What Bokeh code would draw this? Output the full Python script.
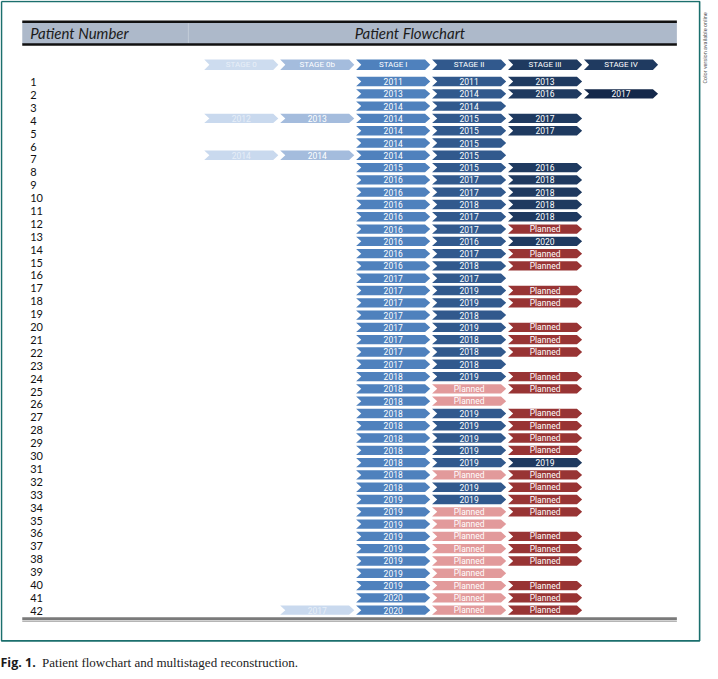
from bokeh.plotting import figure
from bokeh.models import Range1d, ColumnDataSource, Label
from bokeh.core.properties import value
from bokeh.embed import file_html
from bokeh.resources import INLINE

# ---------------- data ----------------
stage_names = ["STAGE 0", "STAGE 0b", "STAGE I", "STAGE II", "STAGE III", "STAGE IV"]
patient_numbers = [str(i) for i in range(1, 43)]

stage_0 = ["", "", "", "2012", "", "", "2014"] + [""] * 37
stage_0b = ["", "", "", "2013", "", "", "2014"] + [""] * 36 + ["2017"]
stage_I = (["2011", "2013", "2014", "2014", "2014", "2014", "2014", "2015"]
           + ["2016"] * 8 + ["2017"] * 8 + ["2018"] * 10 + ["2019"] * 8 + ["2020"] * 2)
stage_II = ["2011", "2014", "2014", "2015", "2015", "2015", "2015", "2015",
            "2017", "2017", "2018", "2017", "2017", "2016", "2017", "2018",
            "2017", "2019", "2019", "2018", "2019", "2018", "2018", "2018",
            "2019", "Planned", "Planned", "2019", "2019", "2019", "2019", "2019",
            "Planned", "2019", "2019", "Planned", "Planned", "Planned", "Planned", "Planned",
            "Planned", "Planned", "Planned", "Planned"]
stage_III = ["2013", "2016", "", "2017", "2017", "", "", "2016",
             "2018", "2018", "2018", "2018", "Planned", "2020", "Planned", "Planned",
             "", "Planned", "Planned", "", "Planned", "Planned", "Planned", "",
             "Planned", "Planned", "", "Planned", "Planned", "Planned", "Planned", "2019",
             "Planned", "Planned", "Planned", "Planned", "", "Planned", "Planned", "Planned",
             "", "Planned", "Planned", "Planned"]
stage_IV = ["", "2017"] + [""] * 42
faded_0b_rows = [44]

columns = [stage_0, stage_0b, stage_I, stage_II, stage_III, stage_IV]

# ---------------- layout ----------------
W_REF, H_REF = 718, 679
FIG_W, FIG_H = 710, 671
COL_X0, COL_DX = 243.5, 76.8
ROW_Y0, ROW_DY = 82.0, 12.44
LAB_Y0, LAB_DY = 82.5, 13.05
HEAD_ROW = 1 + (65 - ROW_Y0) / ROW_DY
ARROW_FONT = "Roboto"

fill_stage = ["#c9d9ee", "#a4bcdd", "#4f81bd", "#31598d", "#1f3a60", "#14284a"]
text_stage = ["#e6eef8", "white", "white", "white", "white", "white"]
head_fill = ["#cddcef", "#a4bcdd", "#4f81bd", "#31598d", "#1f3a60", "#1f3a60"]
head_text = ["#e8eff8", "white", "white", "white", "white", "white"]
fill_planned = {3: "#e29a9b", 4: "#983434"}


def chevron(s, r, hw=0.488, d=0.068, hh=0.38):
    L, R = s - hw, s + hw
    return [L, R - d, R, R - d, L, L + d], [r - hh, r - hh, r, r + hh, r + hh, r]


p = figure(width=FIG_W, height=FIG_H,
           x_range=Range1d(-COL_X0 / COL_DX, (W_REF - COL_X0) / COL_DX),
           y_range=Range1d(1 + (H_REF - ROW_Y0) / ROW_DY, 1 - ROW_Y0 / ROW_DY),
           output_backend="svg", toolbar_location=None, min_border=0,
           x_axis_location=None, y_axis_location=None, outline_line_color=None,
           background_fill_color="white", border_fill_color="white")
p.grid.visible = False
p.extra_x_ranges = {"px": Range1d(0, W_REF)}
p.extra_y_ranges = {"py": Range1d(H_REF, 0),
                    "lab": Range1d(1 + (H_REF - LAB_Y0) / LAB_DY, 1 - LAB_Y0 / LAB_DY)}

# frame
p.line(x=[1, 707, 707, 1, 1], y=[1, 1, 648, 648, 1], x_range_name="px", y_range_name="py",
       line_color="#1b6f6d", line_width=1.6)

# header band
p.quad(left=[22], right=[684], top=[22], bottom=[44], x_range_name="px", y_range_name="py",
       fill_color="#adb9ca", line_color=None)
p.segment(x0=[22, 22], x1=[684, 684], y0=[21.5, 44.5], y1=[21.5, 44.5],
          x_range_name="px", y_range_name="py", line_color="#111111", line_width=2.5)
p.segment(x0=[190], x1=[190], y0=[23], y1=[43], x_range_name="px", y_range_name="py",
          line_color="#c3ccd8", line_width=1)
p.text(x=[30], y=[33], text=["Patient Number"], x_range_name="px", y_range_name="py",
       text_font=value("Lato"), text_font_style="italic", text_font_size="15px",
       text_color="#1b1b1b", text_baseline="middle", text_align="left")
p.text(x=[414], y=[33], text=["Patient Flowchart"], x_range_name="px", y_range_name="py",
       text_font=value("Lato"), text_font_style="italic", text_font_size="15px",
       text_color="#1b1b1b", text_baseline="middle", text_align="center")

# bottom rule
p.segment(x0=[22], x1=[684], y0=[625.5], y1=[625.5], x_range_name="px", y_range_name="py",
          line_color="#7a7a7a", line_width=3)
p.segment(x0=[22], x1=[684], y0=[628.3], y1=[628.3], x_range_name="px", y_range_name="py",
          line_color="#b5b5b5", line_width=1.2)

# stage header chevrons
hx, hy, hf, ht, htc, hs = [], [], [], [], [], []
for s, name in enumerate(stage_names):
    xs, ys = chevron(s, HEAD_ROW, hh=0.42)
    hx.append(xs); hy.append(ys); hf.append(head_fill[s])
    ht.append(name); htc.append(head_text[s]); hs.append(s)
hsrc = ColumnDataSource(dict(xs=hx, ys=hy, fill=hf, label=ht, tc=htc, s=hs,
                             r=[HEAD_ROW] * len(hs)))
p.patches("xs", "ys", source=hsrc, fill_color="fill", line_color=None)
p.text(x="s", y="r", text="label", source=hsrc, text_color="tc",
       text_font=value(ARROW_FONT), text_font_size="8px",
       text_align="center", text_baseline="middle")

# patient chevrons
ax, ay, af, at, atc, as_, ar = [], [], [], [], [], [], []
for s, col in enumerate(columns):
    for i, v in enumerate(col):
        if not v:
            continue
        r = i + 1
        xs, ys = chevron(s, r)
        if v == "Planned":
            f, tc = fill_planned[s], "white"
        elif s == 1 and r in faded_0b_rows:
            f, tc = fill_stage[0], text_stage[0]
        else:
            f, tc = fill_stage[s], text_stage[s]
        ax.append(xs); ay.append(ys); af.append(f); at.append(v)
        atc.append(tc); as_.append(s); ar.append(r)
asrc = ColumnDataSource(dict(xs=ax, ys=ay, fill=af, label=at, tc=atc, s=as_, r=ar))
p.patches("xs", "ys", source=asrc, fill_color="fill", line_color=None)
p.text(x="s", y="r", text="label", source=asrc, text_color="tc",
       text_font=value(ARROW_FONT), text_font_size="8.5px",
       text_align="center", text_baseline="middle")

# patient numbers
p.text(x=[30] * len(patient_numbers), y=list(range(1, len(patient_numbers) + 1)),
       text=patient_numbers, x_range_name="px", y_range_name="lab",
       text_font=value("Lato"), text_font_size="11px", text_color="#111111",
       text_align="left", text_baseline="middle")

# caption
p.add_layout(Label(x=0, y=670, x_range_name="px", y_range_name="py", text="Fig. 1.",
                   text_font="Open Sans", text_font_style="bold", text_font_size="12.5px",
                   text_color="#1a1a1a", text_baseline="middle"))
p.add_layout(Label(x=42, y=670, x_range_name="px", y_range_name="py",
                   text="Patient flowchart and multistaged reconstruction.",
                   text_font="Liberation Serif", text_font_size="13px",
                   text_color="#222222", text_baseline="middle"))

# side note
p.add_layout(Label(x=712, y=84, x_range_name="px", y_range_name="py",
                   text="Color version available online", angle=1.5708,
                   text_font="Roboto", text_font_size="5.5px",
                   text_color="#555555", text_baseline="middle", text_align="left"))

open("out.html", "w").write(file_html(p, INLINE))
